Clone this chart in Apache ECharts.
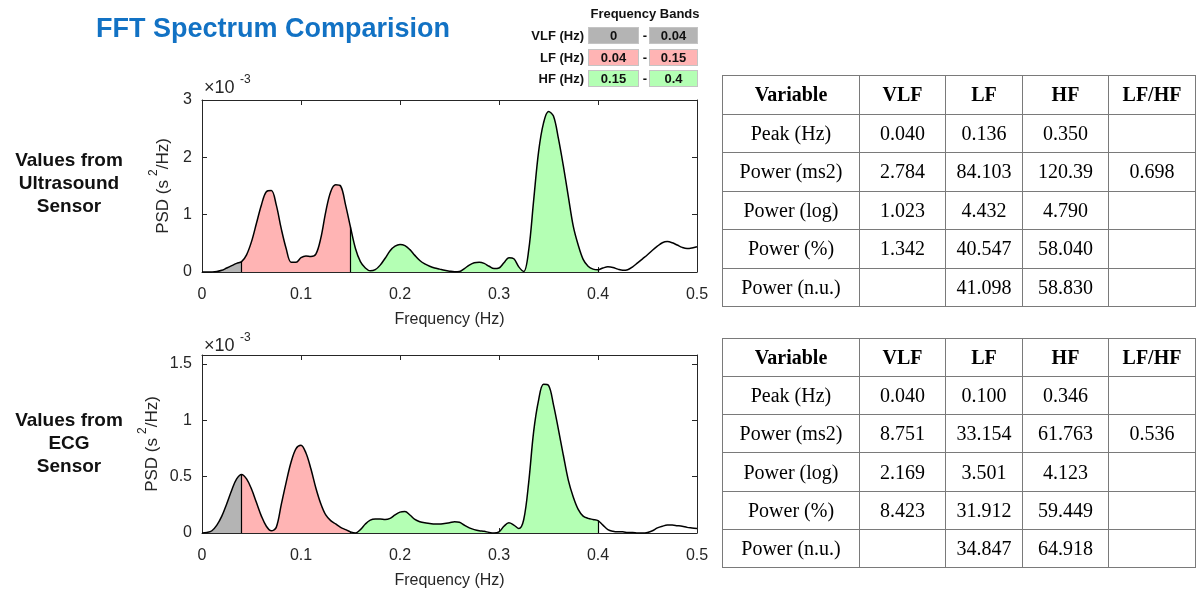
<!DOCTYPE html>
<html>
<head>
<meta charset="utf-8">
<title>FFT Spectrum Comparision</title>
<script src="https://cdn.jsdelivr.net/npm/echarts@6/dist/echarts.min.js"></script>
<style>
  html, body { margin: 0; padding: 0; background: #fff; }
  #wrap { position: relative; width: 1196px; height: 591px; overflow: hidden; }
  #main { position: absolute; left: 0; top: 0; width: 1196px; height: 591px; }
  .band { position: absolute; font-family: 'Liberation Sans', Arial, sans-serif; font-weight: bold; font-size: 13px; color: #111; white-space: nowrap; }
  .bandBox { height: 17px; line-height: 16px; text-align: center; border: 1px solid #c4c4c4; box-sizing: border-box; }
  table.stats { position: absolute; border-collapse: collapse; table-layout: fixed; font-family: 'Liberation Serif', 'Times New Roman', serif; font-size: 20px; color: #000; }
  table.stats td, table.stats th { border: 1px solid #7a7a7a; padding: 0; text-align: center; }
  table.stats th { font-weight: bold; }
</style>
</head>
<body>
<div id="wrap">
  <div id="main"></div>
</div>
<script>
// frequency grid (Hz), one sample every 0.005 Hz from 0 to 0.5
var freqStep = 0.005;
var freq = [];
for (var i = 0; i <= 100; i++) freq.push(+(i * freqStep).toFixed(3));

// PSD, in units of 1e-3 s^2/Hz
var psdUltrasound = [
  0, 0, 0.002, 0.01, 0.03, 0.07, 0.11, 0.15, 0.18, 0.30,
  0.53, 0.85, 1.17, 1.40, 1.42, 1.17, 0.76, 0.41, 0.17, 0.17,
  0.25, 0.28, 0.27, 0.31, 0.59, 1.05, 1.40, 1.52, 1.50, 1.17,
  0.78, 0.41, 0.18, 0.07, 0.02, 0.04, 0.12, 0.24, 0.37, 0.45,
  0.48, 0.46, 0.39, 0.29, 0.20, 0.14, 0.10, 0.07, 0.05, 0.03,
  0.015, 0.005, 0.01, 0.06, 0.12, 0.16, 0.17, 0.15, 0.10, 0.06,
  0.07, 0.16, 0.25, 0.23, 0.09, 0.01, 0.38, 1.25, 2.10, 2.60,
  2.80, 2.72, 2.33, 1.85, 1.32, 0.80, 0.47, 0.22, 0.10, 0.05,
  0.04, 0.07, 0.09, 0.08, 0.05, 0.03, 0.04, 0.09, 0.16, 0.23,
  0.30, 0.38, 0.45, 0.51, 0.53, 0.51, 0.47, 0.43, 0.41, 0.42,
  0.44
];
var psdEcg = [
  0, 0.005, 0.02, 0.07, 0.15, 0.26, 0.38, 0.48, 0.52, 0.48,
  0.39, 0.27, 0.15, 0.06, 0.02, 0.05, 0.25, 0.45, 0.63, 0.75,
  0.78, 0.71, 0.57, 0.40, 0.26, 0.16, 0.11, 0.08, 0.05, 0.03,
  0.01, 0.00, 0.03, 0.08, 0.115, 0.125, 0.125, 0.12, 0.13, 0.16,
  0.185, 0.19, 0.16, 0.12, 0.10, 0.09, 0.085, 0.08, 0.08, 0.085,
  0.09, 0.10, 0.095, 0.07, 0.045, 0.03, 0.02, 0.015, 0.005, 0.00,
  0.01, 0.06, 0.09, 0.07, 0.04, 0.12, 0.45, 0.90, 1.18, 1.32,
  1.31, 1.14, 0.92, 0.69, 0.47, 0.32, 0.21, 0.15, 0.13, 0.12,
  0.11, 0.07, 0.03, 0.015, 0.01, 0.01, 0.005, 0.005, 0.00, 0.00,
  0.005, 0.02, 0.045, 0.06, 0.07, 0.07, 0.065, 0.06, 0.05, 0.045,
  0.04
];

// frequency bands
var bandNames = ['VLF (Hz)', 'LF (Hz)', 'HF (Hz)'];
var bandLow = ['0', '0.04', '0.15'];
var bandHigh = ['0.04', '0.15', '0.4'];
var bandEdges = [0, 0.04, 0.15, 0.4];
var bandColors = ['#b4b4b4', '#ffb4b4', '#b4ffb4'];

// tables
var tableHeader = ['Variable', 'VLF', 'LF', 'HF', 'LF/HF'];
var tableRows = ['Peak (Hz)', 'Power (ms2)', 'Power (log)', 'Power (%)', 'Power (n.u.)'];
var usVLF = ['0.040', '2.784', '1.023', '1.342', ''];
var usLF = ['0.136', '84.103', '4.432', '40.547', '41.098'];
var usHF = ['0.350', '120.39', '4.790', '58.040', '58.830'];
var usRatio = ['', '0.698', '', '', ''];
var ecgVLF = ['0.040', '8.751', '2.169', '8.423', ''];
var ecgLF = ['0.100', '33.154', '3.501', '31.912', '34.847'];
var ecgHF = ['0.346', '61.763', '4.123', '59.449', '64.918'];
var ecgRatio = ['', '0.536', '', '', ''];

var axisColor = '#262626';
var sansFont = "'Liberation Sans', Arial, sans-serif";

function valAt(arr, f) {
  return arr[Math.round(f / freqStep)];
}

function makeSeries(arr, idx) {
  return {
    type: 'line',
    xAxisIndex: idx * 2,
    yAxisIndex: idx * 2,
    data: freq.map(function (f, k) { return [f, arr[k]]; }),
    smooth: 0.35,
    showSymbol: false,
    lineStyle: { color: '#000', width: 1.5 },
    areaStyle: { opacity: 1 },
    markLine: {
      silent: true,
      symbol: 'none',
      animation: false,
      label: { show: false },
      lineStyle: { color: '#000', type: 'solid', width: 1.2 },
      data: bandEdges.slice(1).map(function (e) {
        return [{ coord: [e, 0] }, { coord: [e, valAt(arr, e)] }];
      })
    }
  };
}

function xAxes(grid) {
  var base = {
    gridIndex: grid, type: 'value', min: 0, max: 0.5, interval: 0.1,
    axisLine: { onZero: false, lineStyle: { color: axisColor, width: 1 } },
    axisTick: { inside: true, length: 5, lineStyle: { color: axisColor } },
    splitLine: { show: false }
  };
  var bottom = Object.assign({}, base, {
    position: 'bottom',
    name: 'Frequency (Hz)', nameLocation: 'middle', nameGap: 40,
    nameTextStyle: { fontSize: 16, color: axisColor, fontFamily: sansFont },
    axisLabel: { fontSize: 16, color: axisColor, margin: 15, fontFamily: sansFont }
  });
  var top = Object.assign({}, base, { position: 'top', axisLabel: { show: false } });
  return [bottom, top];
}

function yAxes(grid, max, interval, gap) {
  var base = {
    gridIndex: grid, type: 'value', min: 0, max: max, interval: interval,
    axisLine: { show: true, onZero: false, lineStyle: { color: axisColor, width: 1 } },
    axisTick: { show: true, inside: true, length: 5, lineStyle: { color: axisColor } },
    splitLine: { show: false }
  };
  var left = Object.assign({}, base, {
    position: 'left',
    name: '{n|PSD (s}{sup|2}{n|/Hz)}', nameLocation: 'middle', nameGap: gap,
    nameTextStyle: {
      color: axisColor, fontFamily: sansFont,
      rich: {
        n: { fontSize: 17, lineHeight: 24, verticalAlign: 'bottom', color: axisColor, fontFamily: sansFont },
        sup: { fontSize: 12, lineHeight: 12, verticalAlign: 'top', color: axisColor, fontFamily: sansFont, padding: [0, 0, 0, 4] }
      }
    },
    axisLabel: { fontSize: 16, color: axisColor, margin: 10, fontFamily: sansFont, showMaxLabel: max % interval === 0 }
  });
  var right = Object.assign({}, base, { position: 'right', axisLabel: { show: false } });
  return [left, right];
}

function bandPieces() {
  return bandEdges.slice(1).map(function (e, k) {
    var p = { gte: bandEdges[k], color: bandColors[k] };
    if (k === bandEdges.length - 2) p.lte = e; else p.lt = e;
    return p;
  });
}

var chart = echarts.init(document.getElementById('main'));
var option = {
  animation: false,
  title: {
    text: 'FFT Spectrum Comparision',
    left: 96, top: 16, padding: 0,
    textStyle: { fontSize: 27, fontWeight: 'bold', color: '#1272c4', fontFamily: sansFont }
  },
  grid: [
    { left: 202, top: 100, width: 495, height: 172 },
    { left: 202, top: 355, width: 495, height: 178 }
  ],
  xAxis: xAxes(0).concat(xAxes(1)),
  yAxis: yAxes(0, 3, 1, 30).concat(yAxes(1, 1.58, 0.5, 41)),
  visualMap: [
    { type: 'piecewise', show: false, seriesIndex: 0, dimension: 0, pieces: bandPieces(), outOfRange: { color: 'rgba(255,255,255,0)' } },
    { type: 'piecewise', show: false, seriesIndex: 1, dimension: 0, pieces: bandPieces(), outOfRange: { color: 'rgba(255,255,255,0)' } }
  ],
  series: [makeSeries(psdUltrasound, 0), makeSeries(psdEcg, 1)],
  graphic: [
    { type: 'text', left: 204, top: 79, style: { text: '×10', fontSize: 18, fill: axisColor, fontFamily: sansFont } },
    { type: 'text', left: 240, top: 74, style: { text: '-3', fontSize: 12, fill: axisColor, fontFamily: sansFont } },
    { type: 'text', left: 204, top: 337, style: { text: '×10', fontSize: 18, fill: axisColor, fontFamily: sansFont } },
    { type: 'text', left: 240, top: 332, style: { text: '-3', fontSize: 12, fill: axisColor, fontFamily: sansFont } },
    { type: 'text', x: 69, y: 149, style: { text: 'Values from\nUltrasound\nSensor', align: 'center', fontSize: 19, lineHeight: 23, fontWeight: 'bold', fill: '#111', fontFamily: sansFont } },
    { type: 'text', x: 69, y: 409, style: { text: 'Values from\nECG\nSensor', align: 'center', fontSize: 19, lineHeight: 23, fontWeight: 'bold', fill: '#111', fontFamily: sansFont } }
  ]
};
chart.setOption(option);

// frequency band legend
var wrap = document.getElementById('wrap');
function addDiv(cls, css, text) {
  var d = document.createElement('div');
  d.className = cls;
  d.style.cssText = css;
  d.textContent = text;
  wrap.appendChild(d);
  return d;
}
addDiv('band', 'left:582px;top:6px;width:126px;text-align:center;', 'Frequency Bands');
for (var b = 0; b < bandNames.length; b++) {
  var y = 27 + b * 21.5;
  addDiv('band', 'left:500px;top:' + y + 'px;width:84px;text-align:right;line-height:17px;', bandNames[b]);
  addDiv('band bandBox', 'left:588px;top:' + y + 'px;width:51px;background:' + bandColors[b] + ';', bandLow[b]);
  addDiv('band', 'left:642px;top:' + y + 'px;width:6px;text-align:center;line-height:17px;', '-');
  addDiv('band bandBox', 'left:649px;top:' + y + 'px;width:49px;background:' + bandColors[b] + ';', bandHigh[b]);
}

// statistics tables
var colWidths = [137, 86, 77, 86, 87];
function buildTable(top, height, cols) {
  var t = document.createElement('table');
  t.className = 'stats';
  t.style.left = '722px';
  t.style.top = top + 'px';
  t.style.width = colWidths.reduce(function (a, c) { return a + c; }, 0) + 'px';
  var cg = document.createElement('colgroup');
  colWidths.forEach(function (w) {
    var c = document.createElement('col');
    c.style.width = w + 'px';
    cg.appendChild(c);
  });
  t.appendChild(cg);
  var rowH = height / (tableRows.length + 1);
  var tr = document.createElement('tr');
  tr.style.height = rowH + 'px';
  tableHeader.forEach(function (h) {
    var th = document.createElement('th');
    th.textContent = h;
    tr.appendChild(th);
  });
  t.appendChild(tr);
  tableRows.forEach(function (name, r) {
    var row = document.createElement('tr');
    row.style.height = rowH + 'px';
    [name].concat(cols.map(function (c) { return c[r]; })).forEach(function (v) {
      var td = document.createElement('td');
      td.textContent = v;
      row.appendChild(td);
    });
    t.appendChild(row);
  });
  wrap.appendChild(t);
}
buildTable(75, 231, [usVLF, usLF, usHF, usRatio]);
buildTable(338, 229, [ecgVLF, ecgLF, ecgHF, ecgRatio]);
</script>
</body>
</html>
